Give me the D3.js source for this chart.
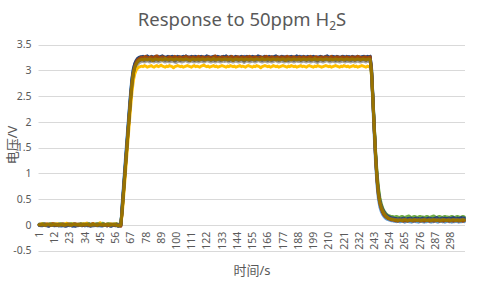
<!DOCTYPE html>
<html><head><meta charset="utf-8">
<script src="https://cdn.jsdelivr.net/npm/d3@7"></script>
<style>html,body{margin:0;padding:0;background:#fff;}svg{display:block;}</style>
</head><body>
<script>
const title = "Response to 50ppm H₂S";
const yTicks = [-0.5, 0, 0.5, 1, 1.5, 2, 2.5, 3, 3.5];
const xTickLabels = [1,12,23,34,45,56,67,78,89,100,111,122,133,144,155,166,177,188,199,210,221,232,243,254,265,276,287,298];
const seriesColors = ["#4472C4","#ED7D31","#A5A5A5","#FFC000","#5B9BD5","#70AD47","#264478","#9E480E","#636363","#997300"];

const s1 = [
.01,0,-.01,.01,.02,0,-.02,-.01,0,.01,0,-.01,.01,0,-.02,-.01,.01,0,.01,-.01,
-.02,0,.01,-.01,-.03,-.02,0,.01,-.01,0,.01,0,-.01,-.02,0,.01,.02,0,-.01,0,
-.01,.01,0,-.02,-.01,0,.01,0,-.01,.01,0,-.02,-.01,0,.01,0,-.01,-.02,0,.01,
.36,.72,1.08,1.44,1.8,2.15,2.5,2.8,2.99,3.1,3.16,3.2,3.22,3.24,
3.25,3.26,3.24,3.25,3.27,3.26,3.24,3.25,3.26,3.25,3.24,3.26,3.27,3.25,3.24,3.25,3.26,3.24,3.23,3.25,
3.26,3.25,3.27,3.26,3.24,3.25,3.25,3.26,3.24,3.25,3.27,3.25,3.24,3.26,3.25,3.23,3.25,3.26,3.27,3.25,
3.24,3.25,3.26,3.25,3.24,3.26,3.25,3.27,3.25,3.24,3.25,3.26,3.24,3.25,3.26,3.25,3.23,3.25,3.26,3.25,
3.26,3.27,3.25,3.24,3.25,3.26,3.25,3.24,3.26,3.25,3.25,3.24,3.26,3.25,3.27,3.25,3.24,3.25,3.26,3.24,
3.25,3.26,3.25,3.23,3.25,3.26,3.25,3.24,3.25,3.27,3.26,3.25,3.24,3.25,3.26,3.25,3.25,3.24,3.26,3.25,
3.24,3.25,3.27,3.26,3.25,3.24,3.25,3.26,3.25,3.24,3.25,3.26,3.25,3.24,3.26,3.27,3.25,3.24,3.25,3.26,
3.25,3.24,3.25,3.26,3.25,3.23,3.25,3.26,3.24,3.25,3.26,3.25,3.24,3.25,3.27,3.26,3.25,3.24,3.25,3.26,
3.25,3.26,3.24,3.25,3.25,3.26,3.27,3.25,3.24,3.25,3.26,3.25,3.24,3.26,3.25,3.25,3.26,3.24,3.25,3.26,
3.25,3.27,3.26,3.25,3.26,3.27,
3.02,2.46,1.86,1.31,.89,.61,.45,.35,.28,.23,.2,.17,.15,.14,.13,.12,.12,.11,.11,.1,
.11,.1,.1,.11,.12,.1,.11,.1,.09,.1,.11,.1,.12,.11,.1,.11,.1,.1,.11,.12,
.11,.1,.11,.12,.11,.1,.11,.12,.11,.1,.11,.12,.11,.12,.11,.1,.11,.12,.13,.11,
.12,.11,.12,.11,.12,.13,.12,.12];

const s2 = [
0,.01,0,-.01,.01,.02,.01,0,-.01,0,.01,.02,0,.01,-.01,0,.01,.02,.01,0,
0,.01,.02,.01,0,-.01,0,.01,0,.01,.02,.01,0,.01,.02,.03,.01,0,.01,0,
-.01,0,.01,0,.02,.01,0,.01,-.01,0,.01,0,-.01,.01,0,.01,0,-.01,0,.01,
.3,.66,1.02,1.38,1.74,2.1,2.45,2.76,2.97,3.08,3.15,3.19,3.21,3.23,
3.24,3.25,3.23,3.24,3.26,3.24,3.25,3.23,3.24,3.25,3.26,3.24,3.23,3.25,3.24,3.24,3.26,3.25,3.23,3.24,
3.25,3.24,3.26,3.25,3.23,3.24,3.25,3.24,3.26,3.24,3.23,3.24,3.25,3.24,3.26,3.25,3.24,3.23,3.25,3.24,
3.24,3.26,3.25,3.24,3.23,3.24,3.25,3.26,3.24,3.25,3.23,3.24,3.25,3.26,3.24,3.23,3.25,3.24,3.24,3.26,
3.25,3.24,3.23,3.24,3.25,3.26,3.24,3.25,3.23,3.24,3.26,3.24,3.25,3.24,3.23,3.25,3.24,3.26,3.25,3.24,
3.24,3.23,3.25,3.26,3.24,3.25,3.24,3.23,3.24,3.25,3.25,3.26,3.24,3.23,3.25,3.24,3.26,3.25,3.24,3.23,
3.24,3.25,3.24,3.26,3.25,3.24,3.23,3.24,3.25,3.26,3.23,3.24,3.25,3.24,3.26,3.24,3.25,3.23,3.24,3.25,
3.26,3.25,3.24,3.23,3.24,3.25,3.26,3.24,3.25,3.24,3.24,3.23,3.25,3.26,3.24,3.25,3.24,3.26,3.23,3.24,
3.25,3.24,3.26,3.25,3.23,3.24,3.25,3.24,3.26,3.25,3.24,3.25,3.23,3.24,3.26,3.25,3.24,3.25,3.23,3.24,
3.25,3.24,3.26,3.24,3.25,3.24,
2.98,2.42,1.83,1.28,.86,.58,.42,.32,.25,.2,.17,.14,.12,.11,.1,.09,.09,.08,.08,.07,
.08,.07,.07,.08,.06,.07,.08,.07,.06,.07,.08,.07,.07,.06,.07,.08,.07,.06,.07,.07,
.08,.07,.06,.07,.08,.07,.07,.06,.07,.08,.07,.06,.07,.07,.08,.07,.06,.07,.08,.07,
.07,.06,.07,.08,.07,.07,.06,.07];

const s3 = [
-.01,0,.01,0,-.01,-.02,0,.01,0,-.01,0,.01,0,-.01,0,.01,.02,0,-.01,0,
.01,0,-.01,0,.01,0,-.02,-.01,0,.01,0,-.01,0,.01,0,-.01,.01,0,-.01,0,
.01,.02,0,-.01,0,.01,0,-.01,0,.01,0,-.01,.01,0,-.01,0,.01,0,-.01,0,
.33,.68,1.03,1.38,1.73,2.07,2.4,2.68,2.88,3.0,3.07,3.11,3.14,3.16,
3.17,3.18,3.16,3.17,3.19,3.17,3.16,3.18,3.17,3.16,3.18,3.17,3.16,3.17,3.18,3.19,3.17,3.16,3.17,3.18,
3.16,3.17,3.18,3.17,3.16,3.15,3.17,3.18,3.17,3.16,3.17,3.18,3.19,3.17,3.16,3.17,3.18,3.17,3.16,3.17,
3.18,3.16,3.17,3.18,3.17,3.16,3.17,3.19,3.18,3.17,3.16,3.17,3.18,3.16,3.17,3.18,3.17,3.16,3.17,3.18,
3.17,3.19,3.17,3.16,3.18,3.17,3.16,3.17,3.18,3.17,3.16,3.17,3.18,3.17,3.15,3.17,3.18,3.17,3.16,3.17,
3.18,3.17,3.16,3.17,3.19,3.18,3.17,3.16,3.17,3.18,3.17,3.16,3.18,3.17,3.16,3.17,3.18,3.19,3.17,3.16,
3.17,3.18,3.17,3.16,3.17,3.18,3.16,3.17,3.18,3.17,3.16,3.17,3.19,3.17,3.18,3.16,3.17,3.18,3.17,3.16,
3.18,3.17,3.16,3.17,3.18,3.17,3.16,3.15,3.17,3.18,3.17,3.16,3.17,3.18,3.19,3.17,3.16,3.17,3.18,3.17,
3.16,3.18,3.17,3.16,3.17,3.18,3.17,3.16,3.18,3.17,3.17,3.16,3.18,3.17,3.16,3.17,3.18,3.17,3.16,3.17,
3.18,3.17,3.16,3.18,3.17,3.17,
2.96,2.4,1.82,1.28,.87,.6,.44,.34,.27,.22,.18,.15,.13,.12,.11,.1,.1,.09,.09,.1,
.09,.08,.09,.1,.09,.08,.09,.09,.1,.09,.08,.09,.1,.09,.09,.08,.09,.1,.09,.08,
.09,.1,.09,.09,.08,.09,.1,.09,.08,.09,.09,.1,.09,.08,.09,.1,.09,.09,.08,.09,
.1,.09,.08,.09,.1,.09,.09,.08];

const s4 = [
0,.01,.02,.01,0,.01,0,-.01,.01,.02,.01,0,.01,.02,.01,0,.01,0,.01,.02,
.03,.01,0,.01,.02,.01,0,.01,0,-.01,0,.01,.02,.01,.03,.02,.01,0,.01,.02,
.01,0,.01,.02,.04,.02,.01,0,.01,0,.01,.02,.01,0,.01,.02,.01,0,.01,.02,
.22,.55,.9,1.25,1.6,1.95,2.28,2.58,2.8,2.93,3.0,3.04,3.06,3.07,
3.08,3.07,3.09,3.08,3.06,3.07,3.08,3.09,3.07,3.06,3.08,3.09,3.07,3.08,3.1,3.08,3.07,3.06,3.08,3.07,
3.09,3.08,3.07,3.05,3.07,3.08,3.09,3.08,3.07,3.08,3.06,3.07,3.08,3.09,3.08,3.07,3.06,3.08,3.09,3.07,
3.08,3.07,3.06,3.08,3.09,3.1,3.08,3.07,3.08,3.06,3.07,3.08,3.09,3.07,3.08,3.06,3.07,3.08,3.09,3.08,
3.07,3.06,3.08,3.07,3.09,3.08,3.07,3.08,3.06,3.07,3.08,3.09,3.07,3.08,3.07,3.06,3.08,3.09,3.08,3.07,
3.06,3.08,3.07,3.09,3.08,3.07,3.05,3.07,3.08,3.09,3.08,3.07,3.08,3.06,3.07,3.09,3.08,3.07,3.08,3.06,
3.07,3.08,3.09,3.08,3.07,3.06,3.08,3.07,3.09,3.08,3.07,3.08,3.06,3.07,3.08,3.09,3.07,3.08,3.07,3.06,
3.08,3.09,3.08,3.07,3.06,3.08,3.07,3.09,3.08,3.07,3.06,3.07,3.08,3.09,3.08,3.07,3.08,3.06,3.07,3.08,
3.09,3.08,3.07,3.06,3.08,3.07,3.09,3.08,3.07,3.08,3.06,3.07,3.08,3.09,3.07,3.08,3.06,3.07,3.08,3.09,
3.08,3.07,3.06,3.08,3.07,3.08,
2.9,2.42,1.88,1.36,.95,.67,.49,.38,.3,.25,.21,.18,.16,.14,.13,.12,.11,.11,.1,.1,
.11,.1,.09,.1,.11,.1,.1,.09,.1,.11,.1,.09,.1,.1,.11,.1,.09,.1,.11,.1,
.1,.09,.1,.11,.1,.1,.09,.1,.11,.1,.09,.1,.1,.11,.1,.09,.1,.11,.1,.1,
.09,.1,.11,.1,.1,.09,.1,.1];

const s5 = [
-.01,-.02,0,-.01,0,.01,-.01,-.02,-.01,0,-.01,0,-.02,-.01,0,-.01,-.03,-.02,0,-.01,
0,-.01,-.02,-.01,0,.01,-.01,0,-.02,-.01,-.01,0,-.01,-.02,-.01,0,-.01,0,.01,-.01,
-.02,-.01,0,-.01,-.02,-.03,-.01,0,-.01,-.02,-.01,0,-.01,-.02,0,-.01,.01,-.01,-.02,-.01,
.45,.82,1.19,1.55,1.9,2.25,2.58,2.86,3.03,3.12,3.17,3.2,3.21,3.22,
3.22,3.23,3.21,3.22,3.24,3.22,3.21,3.23,3.22,3.21,3.23,3.22,3.21,3.22,3.23,3.24,3.22,3.21,3.22,3.23,
3.21,3.22,3.23,3.22,3.2,3.22,3.23,3.22,3.21,3.22,3.23,3.22,3.24,3.22,3.21,3.22,3.23,3.22,3.21,3.23,
3.22,3.21,3.22,3.23,3.22,3.21,3.22,3.24,3.23,3.22,3.21,3.22,3.23,3.21,3.22,3.23,3.22,3.21,3.22,3.23,
3.22,3.24,3.22,3.21,3.23,3.22,3.21,3.22,3.23,3.22,3.21,3.22,3.23,3.22,3.2,3.22,3.23,3.22,3.21,3.22,
3.23,3.22,3.21,3.22,3.24,3.23,3.22,3.21,3.22,3.23,3.22,3.21,3.23,3.22,3.21,3.22,3.23,3.24,3.22,3.21,
3.22,3.23,3.22,3.21,3.22,3.23,3.21,3.22,3.23,3.22,3.21,3.22,3.24,3.22,3.23,3.21,3.22,3.23,3.22,3.21,
3.23,3.22,3.21,3.22,3.23,3.22,3.21,3.2,3.22,3.23,3.22,3.21,3.22,3.23,3.24,3.22,3.21,3.22,3.23,3.22,
3.21,3.23,3.22,3.21,3.22,3.23,3.22,3.21,3.23,3.22,3.22,3.21,3.23,3.22,3.21,3.22,3.23,3.22,3.21,3.22,
3.23,3.22,3.21,3.23,3.22,3.22,
2.9,2.3,1.7,1.16,.76,.5,.35,.26,.2,.16,.13,.11,.1,.09,.08,.08,.07,.07,.06,.07,
.06,.06,.07,.06,.05,.06,.07,.06,.06,.05,.06,.07,.06,.06,.05,.06,.07,.06,.05,.06,
.06,.07,.06,.05,.06,.06,.07,.06,.05,.06,.07,.06,.06,.05,.06,.07,.06,.06,.05,.06,
.06,.07,.06,.05,.06,.06,.07,.06];

const s6 = [
.01,0,.01,.02,0,-.01,0,.01,.02,.01,0,.01,0,-.01,.01,.02,.01,0,.01,0,
-.01,0,.01,.02,.01,0,.01,0,-.01,.01,.02,.01,0,.01,0,.01,.02,.01,0,-.01,
0,.01,.02,.01,0,.01,.03,.01,0,.01,.02,.01,0,.01,0,.01,.02,0,.01,.02,
.34,.7,1.06,1.42,1.78,2.13,2.47,2.77,2.97,3.08,3.15,3.19,3.21,3.22,
3.23,3.24,3.22,3.23,3.25,3.23,3.22,3.24,3.23,3.22,3.24,3.23,3.22,3.23,3.24,3.25,3.23,3.22,3.23,3.24,
3.22,3.23,3.24,3.23,3.21,3.23,3.24,3.23,3.22,3.23,3.24,3.23,3.25,3.23,3.22,3.23,3.24,3.23,3.22,3.24,
3.23,3.22,3.23,3.24,3.23,3.22,3.23,3.25,3.24,3.23,3.22,3.23,3.24,3.22,3.23,3.24,3.23,3.22,3.23,3.24,
3.23,3.25,3.23,3.22,3.24,3.23,3.22,3.23,3.24,3.23,3.22,3.23,3.24,3.23,3.21,3.23,3.24,3.23,3.22,3.23,
3.24,3.23,3.22,3.23,3.25,3.24,3.23,3.22,3.23,3.24,3.23,3.22,3.24,3.23,3.22,3.23,3.24,3.25,3.23,3.22,
3.23,3.24,3.23,3.22,3.23,3.24,3.22,3.23,3.24,3.23,3.22,3.23,3.25,3.23,3.24,3.22,3.23,3.24,3.23,3.22,
3.24,3.23,3.22,3.23,3.24,3.23,3.22,3.21,3.23,3.24,3.23,3.22,3.23,3.24,3.25,3.23,3.22,3.23,3.24,3.23,
3.22,3.24,3.23,3.22,3.23,3.24,3.23,3.22,3.24,3.23,3.23,3.22,3.24,3.23,3.22,3.23,3.24,3.23,3.22,3.23,
3.24,3.23,3.22,3.24,3.23,3.23,
3.0,2.48,1.92,1.4,1.0,.72,.53,.41,.33,.27,.23,.2,.18,.17,.16,.16,.15,.15,.16,.15,
.14,.15,.16,.15,.14,.15,.16,.17,.15,.14,.15,.16,.15,.14,.15,.16,.15,.15,.14,.15,
.16,.15,.14,.15,.16,.17,.15,.14,.15,.16,.15,.14,.15,.16,.15,.15,.14,.15,.16,.15,
.14,.15,.16,.15,.14,.15,.16,.15];

const s7 = [
-.01,0,-.02,-.01,0,-.01,-.02,-.03,-.01,0,-.01,-.02,0,-.01,-.02,-.01,0,-.01,-.02,-.03,
-.02,-.01,0,-.01,-.02,-.01,-.03,-.02,-.01,0,-.01,-.02,-.01,0,-.01,-.02,-.01,-.03,-.02,-.01,
0,-.01,-.02,-.01,0,-.01,-.02,-.01,0,-.02,-.01,-.02,-.03,-.01,0,-.02,-.01,-.03,-.02,-.01,
.38,.74,1.1,1.46,1.82,2.18,2.52,2.82,3.02,3.13,3.19,3.23,3.25,3.26,
3.26,3.27,3.25,3.26,3.28,3.26,3.25,3.27,3.26,3.25,3.27,3.26,3.25,3.26,3.27,3.28,3.26,3.25,3.26,3.27,
3.25,3.26,3.27,3.26,3.24,3.26,3.27,3.26,3.25,3.26,3.27,3.26,3.28,3.26,3.25,3.26,3.27,3.26,3.25,3.27,
3.26,3.25,3.26,3.27,3.26,3.25,3.26,3.28,3.27,3.26,3.25,3.26,3.27,3.25,3.26,3.27,3.26,3.25,3.26,3.27,
3.26,3.28,3.26,3.25,3.27,3.26,3.25,3.26,3.27,3.26,3.25,3.26,3.27,3.26,3.24,3.26,3.27,3.26,3.25,3.26,
3.27,3.26,3.25,3.26,3.28,3.27,3.26,3.25,3.26,3.27,3.26,3.25,3.27,3.26,3.25,3.26,3.27,3.28,3.26,3.25,
3.26,3.27,3.26,3.25,3.26,3.27,3.25,3.26,3.27,3.26,3.25,3.26,3.28,3.26,3.27,3.25,3.26,3.27,3.26,3.25,
3.27,3.26,3.25,3.26,3.27,3.26,3.25,3.24,3.26,3.27,3.26,3.25,3.26,3.27,3.28,3.26,3.25,3.26,3.27,3.26,
3.25,3.27,3.26,3.25,3.26,3.27,3.26,3.25,3.27,3.26,3.26,3.25,3.27,3.26,3.25,3.26,3.27,3.26,3.25,3.26,
3.27,3.26,3.25,3.27,3.26,3.27,
3.04,2.5,1.9,1.35,.92,.64,.47,.37,.3,.25,.21,.18,.16,.15,.14,.13,.13,.12,.12,.11,
.12,.11,.12,.13,.12,.11,.12,.12,.13,.12,.11,.12,.13,.12,.12,.11,.12,.13,.12,.11,
.12,.13,.12,.12,.11,.12,.13,.14,.12,.11,.12,.13,.12,.13,.12,.12,.13,.12,.13,.14,
.13,.12,.13,.12,.13,.14,.13,.13];

const s8 = [
0,-.01,0,.01,0,-.01,.01,0,-.01,.01,.02,0,-.01,0,.01,0,-.01,.01,0,-.01,
0,.01,0,-.01,0,.01,.02,0,-.01,0,.01,0,-.01,0,.01,0,-.01,0,.01,.02,
0,-.01,0,.01,0,-.01,0,.01,0,-.02,-.01,0,.01,0,-.01,0,.01,-.01,-.02,-.03,
.32,.68,1.04,1.4,1.76,2.11,2.46,2.76,2.96,3.08,3.15,3.2,3.22,3.24,
3.25,3.24,3.26,3.27,3.25,3.24,3.25,3.26,3.24,3.25,3.27,3.28,3.25,3.24,3.25,3.26,3.25,3.24,3.23,3.25,
3.26,3.25,3.24,3.25,3.27,3.25,3.24,3.26,3.25,3.24,3.25,3.26,3.27,3.25,3.24,3.25,3.24,3.26,3.25,3.24,
3.25,3.27,3.25,3.24,3.26,3.25,3.24,3.25,3.26,3.25,3.24,3.25,3.26,3.28,3.25,3.24,3.25,3.24,3.26,3.25,
3.24,3.25,3.26,3.25,3.24,3.27,3.25,3.24,3.25,3.26,3.25,3.24,3.25,3.26,3.25,3.24,3.26,3.25,3.27,3.25,
3.24,3.25,3.26,3.25,3.24,3.25,3.26,3.24,3.25,3.26,3.27,3.25,3.24,3.25,3.26,3.25,3.24,3.25,3.26,3.25,
3.24,3.26,3.25,3.24,3.25,3.27,3.26,3.25,3.24,3.25,3.26,3.25,3.24,3.25,3.26,3.24,3.25,3.26,3.25,3.24,
3.25,3.26,3.27,3.25,3.24,3.25,3.26,3.25,3.24,3.25,3.26,3.24,3.25,3.26,3.25,3.24,3.25,3.27,3.25,3.24,
3.25,3.26,3.25,3.24,3.25,3.26,3.25,3.24,3.26,3.25,3.24,3.25,3.26,3.25,3.24,3.25,3.27,3.26,3.25,3.24,
3.25,3.26,3.25,3.24,3.25,3.26,
2.97,2.41,1.82,1.27,.85,.57,.41,.31,.24,.19,.16,.14,.12,.11,.1,.09,.09,.08,.08,.07,
.08,.09,.08,.07,.08,.08,.07,.08,.09,.08,.07,.08,.08,.09,.08,.07,.08,.08,.07,.08,
.09,.08,.07,.08,.08,.07,.08,.09,.08,.07,.08,.08,.07,.08,.09,.08,.07,.08,.08,.07,
.08,.09,.08,.07,.08,.08,.07,.08];

const s9 = [
0,.01,-.01,0,.01,0,-.01,0,.01,0,-.01,0,.01,0,-.01,-.02,0,.01,0,-.01,
0,.01,0,-.01,0,.01,0,-.01,.01,0,-.01,0,.01,0,-.01,0,.01,0,-.01,-.02,
-.01,0,.01,0,-.01,0,.01,0,-.01,0,.01,0,-.01,0,.01,0,-.01,0,.01,0,
.33,.69,1.05,1.41,1.77,2.12,2.46,2.75,2.95,3.06,3.12,3.16,3.18,3.19,
3.2,3.21,3.19,3.2,3.22,3.2,3.19,3.21,3.2,3.19,3.21,3.2,3.19,3.2,3.21,3.22,3.2,3.19,3.2,3.21,
3.19,3.2,3.21,3.2,3.18,3.2,3.21,3.2,3.19,3.2,3.21,3.2,3.22,3.2,3.19,3.2,3.21,3.2,3.19,3.21,
3.2,3.19,3.2,3.21,3.2,3.19,3.2,3.22,3.21,3.2,3.19,3.2,3.21,3.19,3.2,3.21,3.2,3.19,3.2,3.21,
3.2,3.22,3.2,3.19,3.21,3.2,3.19,3.2,3.21,3.2,3.19,3.2,3.21,3.2,3.18,3.2,3.21,3.2,3.19,3.2,
3.21,3.2,3.19,3.2,3.22,3.21,3.2,3.19,3.2,3.21,3.2,3.19,3.21,3.2,3.19,3.2,3.21,3.22,3.2,3.19,
3.2,3.21,3.2,3.19,3.2,3.21,3.19,3.2,3.21,3.2,3.19,3.2,3.22,3.2,3.21,3.19,3.2,3.21,3.2,3.19,
3.21,3.2,3.19,3.2,3.21,3.2,3.19,3.18,3.2,3.21,3.2,3.19,3.2,3.21,3.22,3.2,3.19,3.2,3.21,3.2,
3.19,3.21,3.2,3.19,3.2,3.21,3.2,3.19,3.21,3.2,3.2,3.19,3.21,3.2,3.19,3.2,3.21,3.2,3.19,3.2,
3.21,3.2,3.19,3.21,3.2,3.2,
2.95,2.4,1.83,1.3,.88,.61,.45,.35,.28,.23,.19,.16,.14,.13,.12,.11,.11,.1,.1,.11,
.1,.09,.1,.11,.1,.1,.09,.1,.11,.1,.09,.1,.1,.11,.1,.09,.1,.1,.11,.1,
.09,.1,.11,.1,.1,.09,.1,.11,.1,.09,.1,.11,.1,.1,.09,.1,.11,.1,.09,.1,
.1,.11,.1,.09,.1,.1,.11,.1];

const s10 = [
0,0,.01,0,-.01,0,.01,.01,0,-.01,0,.01,0,0,-.01,0,.01,0,-.01,0,
.01,0,0,-.01,0,.01,0,0,.01,0,-.01,0,.01,0,0,.01,0,-.01,0,.01,
0,0,-.01,0,.01,0,0,-.01,0,.01,0,-.01,0,.01,0,0,-.01,-.02,-.01,0,
.3,.65,1.01,1.37,1.73,2.08,2.42,2.72,2.93,3.05,3.12,3.16,3.19,3.2,
3.21,3.2,3.22,3.21,3.2,3.21,3.22,3.21,3.19,3.21,3.22,3.21,3.2,3.21,3.22,3.2,3.21,3.23,3.21,3.2,
3.21,3.22,3.21,3.2,3.21,3.22,3.21,3.2,3.22,3.21,3.2,3.21,3.22,3.21,3.2,3.19,3.21,3.22,3.21,3.2,
3.21,3.22,3.2,3.21,3.22,3.21,3.2,3.21,3.22,3.21,3.2,3.21,3.23,3.21,3.2,3.21,3.22,3.21,3.2,3.21,
3.22,3.21,3.2,3.21,3.22,3.21,3.19,3.21,3.22,3.21,3.2,3.21,3.22,3.21,3.2,3.22,3.21,3.2,3.21,3.22,
3.21,3.2,3.21,3.22,3.21,3.2,3.21,3.23,3.21,3.2,3.21,3.22,3.21,3.2,3.21,3.22,3.21,3.2,3.22,3.21,
3.2,3.21,3.22,3.21,3.19,3.21,3.22,3.21,3.2,3.21,3.22,3.21,3.2,3.21,3.22,3.2,3.21,3.22,3.21,3.2,
3.21,3.22,3.21,3.2,3.21,3.23,3.21,3.2,3.21,3.22,3.21,3.2,3.21,3.22,3.21,3.2,3.22,3.21,3.2,3.21,
3.22,3.21,3.2,3.21,3.22,3.21,3.2,3.21,3.22,3.21,3.2,3.21,3.22,3.21,3.2,3.21,3.22,3.21,3.2,3.21,
3.22,3.21,3.2,3.21,3.22,3.21,
2.97,2.43,1.85,1.31,.89,.61,.44,.34,.27,.22,.18,.15,.13,.12,.11,.1,.1,.09,.09,.08,
.09,.09,.08,.09,.1,.09,.08,.09,.09,.08,.09,.1,.09,.08,.09,.09,.08,.09,.1,.09,
.08,.09,.09,.08,.09,.1,.09,.08,.09,.09,.08,.09,.1,.09,.08,.09,.09,.08,.09,.1,
.09,.08,.09,.09,.08,.09,.1,.09];

const seriesValues = [s1, s2, s3, s4, s5, s6, s7, s8, s9, s10];
const nCat = Math.max(...seriesValues.map(s => s.length));
const categories = d3.range(1, nCat + 1);

const W = 480, H = 288;
const font = "'Noto Sans','Noto Sans CJK SC',sans-serif";
const svg = d3.select("body").append("svg").attr("width", W).attr("height", H)
  .style("font-family", font);

const x = d3.scaleBand().domain(categories).range([38.5, 465]).padding(0);
const y = d3.scaleLinear().domain([-0.5, 3.5]).range([250.5, 44.5]);
const cx = d => x(d) + x.bandwidth() / 2;

// gridlines
svg.append("g").selectAll("line").data(yTicks).join("line")
  .attr("x1", 38.5).attr("x2", 465)
  .attr("y1", d => Math.round(y(d)) + 0.5).attr("y2", d => Math.round(y(d)) + 0.5)
  .attr("stroke", "#d9d9d9").attr("stroke-width", 1);

// y axis labels
const yAxis = d3.axisLeft(y).tickValues(yTicks).tickSize(0).tickPadding(0)
  .tickFormat(d => String(d));
const gy = svg.append("g").attr("transform", "translate(31.5,0)").call(yAxis);
gy.select(".domain").remove();
gy.selectAll("text").attr("fill", "#595959").style("font-size", "10.5px").style("font-family", font);

// x axis labels
const xAxis = d3.axisBottom(x).tickValues(xTickLabels).tickSize(0).tickFormat(d => String(d));
const gx = svg.append("g").attr("transform", `translate(0,${y(0)})`).call(xAxis);
gx.select(".domain").remove();
gx.selectAll("text")
  .attr("transform", "rotate(-90)")
  .attr("x", -7).attr("y", 0).attr("dy", "0.35em")
  .style("text-anchor", "end")
  .attr("fill", "#595959").style("font-size", "10.5px").style("font-family", font);

// lines
const line = d3.line().x((d, i) => cx(categories[i])).y(d => y(d));
svg.append("g").selectAll("path").data(seriesValues).join("path")
  .attr("d", d => line(d))
  .attr("fill", "none")
  .attr("stroke", (d, i) => seriesColors[i])
  .attr("stroke-width", 3)
  .attr("stroke-linejoin", "round")
  .attr("stroke-linecap", "round");

// title
const t = svg.append("text").attr("x", 242).attr("y", 26).attr("text-anchor", "middle")
  .attr("fill", "#595959").style("font-size", "18.5px");
t.append("tspan").text("Response to 50ppm H");
t.append("tspan").attr("dy", 4).style("font-size", "12px").text("2");
t.append("tspan").attr("dy", -4).text("S");

// axis titles
svg.append("text").attr("transform", "translate(17,145) rotate(-90)").attr("text-anchor", "middle")
  .attr("fill", "#595959").style("font-size", "13px").text("电压/V");
svg.append("text").attr("x", 252).attr("y", 275).attr("text-anchor", "middle")
  .attr("fill", "#595959").style("font-size", "13px").text("时间/s");
</script>
</body></html>
